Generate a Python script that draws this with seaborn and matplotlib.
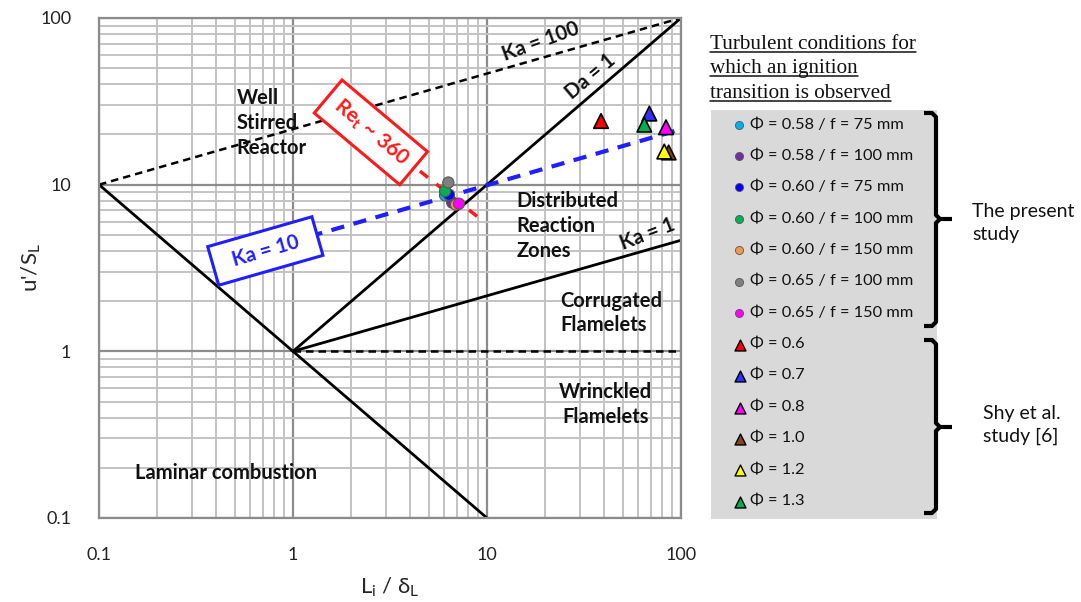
import numpy as np
import pandas as pd
import matplotlib
matplotlib.use("Agg")
import matplotlib.pyplot as plt
from matplotlib.patches import Rectangle
import seaborn as sns

# ---- data -------------------------------------------------------------
present_labels = ["Φ = 0.58 / f = 75 mm", "Φ = 0.58 / f = 100 mm", "Φ = 0.60 / f = 75 mm",
                  "Φ = 0.60 / f = 100 mm", "Φ = 0.60 / f = 150 mm", "Φ = 0.65 / f = 100 mm",
                  "Φ = 0.65 / f = 150 mm"]
present_colors = ["#00b0f0", "#7030a0", "#0000ff", "#00b050", "#f79646", "#808080", "#ff00ff"]
present_x = [6.08, 6.62, 6.37, 6.08, 6.92, 6.32, 7.17]
present_y = [8.63, 7.80, 8.71, 9.16, 7.59, 10.3, 7.69]

shy_labels = ["Φ = 0.6", "Φ = 0.7", "Φ = 0.8", "Φ = 1.0", "Φ = 1.2", "Φ = 1.3"]
shy_colors = ["#ff0000", "#2f2fff", "#ff00ff", "#8b4513", "#ffff00", "#00b050"]
shy_x = [38.7, 68.7, 83.7, 86.4, 82.0, 64.7]
shy_y = [24.1, 26.7, 22.1, 15.6, 15.8, 22.9]

# regime boundaries (end points on the log-log diagram)
lam_x, lam_y = [0.1, 1, 10], [10, 1, 0.1]
da1_x, da1_y = [1, 100], [1, 100]
ka1_x, ka1_y = [1, 100], [1, 4.64]
ka100_x, ka100_y = [0.1, 100], [10, 100]
ka10_x, ka10_y = [0.72, 100], [4.1, 21.5]
flam_x, flam_y = [1, 100], [1, 1]
re_x, re_y = [2.52, 9.8], [20.6, 5.9]

ticks = [0.1, 1, 10, 100]
tick_labels = ["0.1", "1", "10", "100"]

# ---- style ------------------------------------------------------------
sns.set_theme(style="white")
plt.rcParams["font.family"] = ["Lato", "DejaVu Sans"]
plt.rcParams["mathtext.fontset"] = "custom"
plt.rcParams["mathtext.rm"] = "Lato"
plt.rcParams["mathtext.bf"] = "Lato:bold"
plt.rcParams["mathtext.it"] = "Lato:italic"

W, H = 1081, 602
fig = plt.figure(figsize=(W / 100, H / 100), dpi=100)
ax = fig.add_axes([99 / W, 1 - 518 / H, (681 - 99) / W, (518 - 18) / H], zorder=1)

# overlay in pixel units for the side legend
ov = fig.add_axes([0, 0, 1, 1], zorder=0)
ov.set_xlim(0, W)
ov.set_ylim(H, 0)
ov.axis("off")

ax.set_xscale("log")
ax.set_yscale("log")
ax.set_xlim(0.1, 100)
ax.set_ylim(0.1, 100)

# grid
ax.grid(True, which="minor", color="#c3c3c3", lw=1.4, zorder=0)
ax.grid(True, which="major", color="#8c8c8c", lw=1.6, zorder=0)
ax.set_axisbelow(True)
for s in ax.spines.values():
    s.set_color("#8c8c8c")
    s.set_linewidth(1.6)
ax.tick_params(which="both", length=0)
ax.set_xticks(ticks)
ax.set_xticklabels(tick_labels)
ax.set_yticks(ticks)
ax.set_yticklabels(tick_labels)
ax.tick_params(axis="x", pad=21, labelsize=13, colors="#222222")
ax.tick_params(axis="y", pad=20, labelsize=13, colors="#222222")
ax.minorticks_on()
ax.tick_params(which="minor", length=0)

# boundary lines
def line(xs, ys, **kw):
    sns.lineplot(x=xs, y=ys, ax=ax, estimator=None, sort=False, **kw)

line(lam_x, lam_y, color="black", lw=2)
line(da1_x, da1_y, color="black", lw=2)
line(ka1_x, ka1_y, color="black", lw=2)
line(ka100_x, ka100_y, color="black", lw=1.8, linestyle=(0, (3, 2)))
line(flam_x, flam_y, color="black", lw=1.8, linestyle=(0, (3, 2)))
line(ka10_x, ka10_y, color="#1f1fff", lw=3, linestyle=(0, (3.2, 2.3)))
line(re_x, re_y, color="#ff1a1a", lw=2.5, linestyle=(0, (3, 3)))

# data points
df_p = pd.DataFrame({"x": present_x, "y": present_y, "label": present_labels})
df_s = pd.DataFrame({"x": shy_x, "y": shy_y, "label": shy_labels})
sns.scatterplot(data=df_p, x="x", y="y", hue="label", palette=present_colors,
                hue_order=present_labels, marker="o", s=65, edgecolor="#555555",
                linewidth=0.8, legend=False, ax=ax, zorder=5)
sns.scatterplot(data=df_s, x="x", y="y", hue="label", palette=shy_colors,
                hue_order=shy_labels, marker="^", s=110, edgecolor="black",
                linewidth=1.2, legend=False, ax=ax, zorder=5)

ax.set_xlabel(r"L$_\mathregular{i}$ / δ$_\mathregular{L}$", fontsize=16)
ax.set_ylabel(r"u'/S$_\mathregular{L}$", fontsize=16)
ax.xaxis.set_label_coords(0.5, -0.115)
ax.yaxis.set_label_coords(-0.097, 0.5)

# regime annotations
bold = dict(fontsize=14.5, fontweight="bold", color="#111111")
ax.text(0.513, 23.4, "Well\nStirred\nReactor", ha="left", va="center", linespacing=1.3, **bold)
ax.text(14.2, 5.65, "Distributed\nReaction\nZones", ha="left", va="center", linespacing=1.3, **bold)
ax.text(23.8, 1.70, "Corrugated\nFlamelets", ha="left", va="center", linespacing=1.3, **bold)
ax.text(41.0, 0.481, "Wrinckled\nFlamelets", ha="center", va="center", linespacing=1.3,
        multialignment="center", **bold)
ax.text(0.153, 0.185, "Laminar combustion", ha="left", va="center", **bold)
ax.text(18.9, 72.6, "Ka = 100", ha="center", va="center", rotation=20, **bold)
ax.text(34.3, 44.8, "Da = 1", ha="center", va="center", rotation=40, **bold)
ax.text(67.2, 5.08, "Ka = 1", ha="center", va="center", rotation=21, **bold)

ax.text(2.52, 20.6, r"Re$_\mathbf{t}$ ~ 360", ha="center", va="center", rotation=-40,
        fontsize=15, fontweight="bold", color="#ff1a1a", zorder=6,
        bbox=dict(boxstyle="square,pad=0.5", fc="white", ec="#ff1a1a", lw=2.2))
ax.text(0.72, 4.0, "  Ka = 10  ", ha="center", va="center", rotation=16,
        fontsize=14.5, fontweight="bold", color="#1f1fff", zorder=6,
        bbox=dict(boxstyle="square,pad=0.5", fc="white", ec="#1f1fff", lw=2.2))

# ---- side legend ------------------------------------------------------
ov.add_patch(Rectangle((711, 110), 226, 409, fc="#d9d9d9", ec="none", zorder=1))
ys = [124.5 + 31.4 * i for i in range(13)]
leg_labels = present_labels + shy_labels
leg_colors = present_colors + shy_colors
leg_markers = ["o"] * len(present_labels) + ["^"] * len(shy_labels)
for yy, lab, col, mk in zip(ys, leg_labels, leg_colors, leg_markers):
    if mk == "o":
        ov.scatter([739], [yy], s=34, marker="o", c=col, edgecolors="#555555", linewidths=0.6, zorder=3)
    else:
        ov.scatter([740], [yy + 0.5], s=62, marker="^", c=col, edgecolors="black", linewidths=1.0, zorder=3)
    ov.text(750, yy, lab, fontsize=11.8, va="center", ha="left", color="#111111", zorder=3)

# braces
def brace(top, bottom, mid, x=936, hook=12, tip=16):
    r = 4
    pts = [(x - hook, top), (x - r, top), (x, top + r), (x, mid - r), (x + r, mid),
           (x + tip, mid)]
    pts2 = [(x + r, mid), (x, mid + r), (x, bottom - r), (x - r, bottom), (x - hook, bottom)]
    for p in (pts, pts2):
        xs, yv = zip(*p)
        ov.plot(xs, yv, color="black", lw=3, solid_capstyle="butt", solid_joinstyle="round", zorder=4)

brace(113, 326, 219)
brace(340, 513, 427)

ov.text(972, 223, "The present\nstudy", fontsize=14, ha="left", va="center",
        linespacing=1.45, color="#111111")
ov.text(983, 425, "Shy et al.\nstudy [6]", fontsize=14, ha="left", va="center",
        linespacing=1.45, color="#111111")

# underlined serif heading
heading = ["Turbulent conditions for", "which an ignition", "transition is observed"]
head_ts = []
for i, s in enumerate(heading):
    t = ov.text(710, 49 + 24.3 * i, s, fontsize=15.2, family="Liberation Serif",
                ha="left", va="baseline", color="#111111")
    head_ts.append(t)
fig.canvas.draw()
inv = ov.transData.inverted()
for t in head_ts:
    bb = t.get_window_extent()
    (x0, _), (x1, _) = inv.transform([[bb.x0, bb.y0], [bb.x1, bb.y0]])
    yb = t.get_position()[1] + 3
    ov.plot([x0, x1], [yb, yb], color="#111111", lw=1.1, zorder=3)

fig.savefig("out.png", dpi=100)
